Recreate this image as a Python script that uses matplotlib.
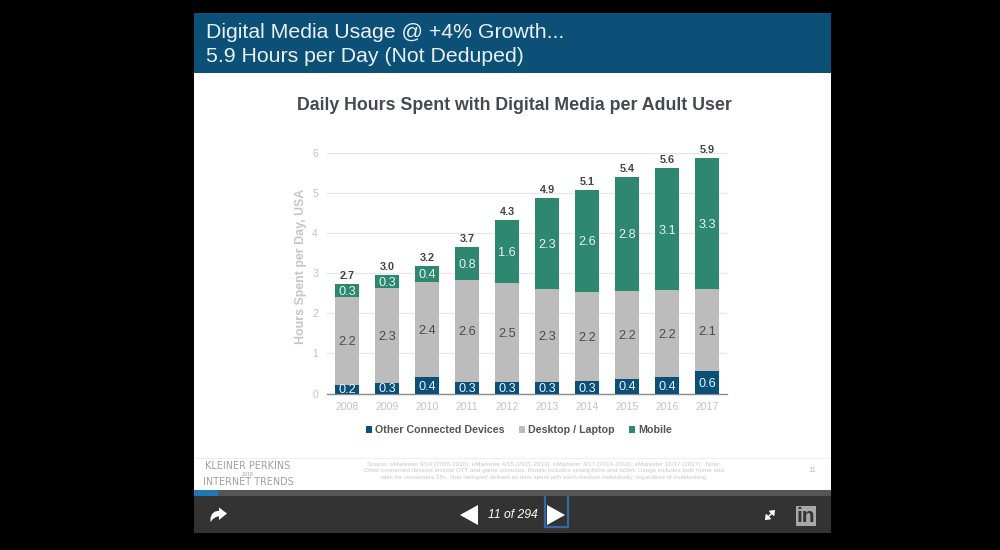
import matplotlib
matplotlib.use("Agg")
import matplotlib.pyplot as plt
from matplotlib.patches import Rectangle, Polygon, FancyArrowPatch
import numpy as np

plt.rcParams['font.family'] = ['Liberation Sans', 'DejaVu Sans']

years = ['2008', '2009', '2010', '2011', '2012', '2013', '2014', '2015', '2016', '2017']
other = [0.22, 0.27, 0.40, 0.29, 0.29, 0.28, 0.30, 0.37, 0.40, 0.55]
desktop = [2.19, 2.36, 2.38, 2.55, 2.46, 2.32, 2.23, 2.19, 2.17, 2.05]
mobile = [0.32, 0.32, 0.40, 0.81, 1.58, 2.27, 2.55, 2.84, 3.06, 3.28]
other_labels = ['0.2', '0.3', '0.4', '0.3', '0.3', '0.3', '0.3', '0.4', '0.4', '0.6']
desktop_labels = ['2.2', '2.3', '2.4', '2.6', '2.5', '2.3', '2.2', '2.2', '2.2', '2.1']
mobile_labels = ['0.3', '0.3', '0.4', '0.8', '1.6', '2.3', '2.6', '2.8', '3.1', '3.3']
total_labels = ['2.7', '3.0', '3.2', '3.7', '4.3', '4.9', '5.1', '5.4', '5.6', '5.9']
yticks = [0, 1, 2, 3, 4, 5, 6]

W, H = 1000, 550
fig = plt.figure(figsize=(10, 5.5), dpi=100, facecolor='black')

# Slide chrome, in pixel coordinates
bg = fig.add_axes([0, 0, 1, 1], zorder=0)
bg.set_xlim(0, W)
bg.set_ylim(H, 0)
bg.axis('off')


def box(x0, y0, x1, y1, color, **kw):
    bg.add_patch(Rectangle((x0, y0), x1 - x0, y1 - y0, facecolor=color, edgecolor='none', **kw))


box(194, 13, 831, 73, '#0c5078')
box(194, 72.5, 831, 73.5, '#7fa6bb')
box(194, 73, 831, 490, 'white')
box(194, 458, 831, 458.8, '#eeeeee')
box(194, 490, 831, 496, '#565656')
box(194, 490, 218, 496, '#1f77b4')
box(194, 496, 831, 533, '#333333')

bg.text(206, 32, 'Digital Media Usage @ +4% Growth...', color='#e8f0f4', fontsize=15.3,
        va='center', ha='left')
bg.text(206, 56, '5.9 Hours per Day (Not Deduped)', color='#e8f0f4', fontsize=15.3,
        va='center', ha='left')
bg.text(514, 106, 'Daily Hours Spent with Digital Media per Adult User', color='#444a50',
        fontsize=12.75, fontweight='bold', va='center', ha='center')

# Footer
bg.text(248, 466, 'KLEINER PERKINS', color='#a0a0a0', fontsize=6.9, family='DejaVu Sans', ha='center', va='center')
bg.text(248, 474, '2018', color='#9a9a9a', fontsize=3.8, ha='center', va='center')
bg.text(248, 482, 'INTERNET TRENDS', color='#a0a0a0', fontsize=6.9, family='DejaVu Sans', ha='center', va='center')
foot = ['Source: eMarketer 9/14 (2008-2010), eMarketer 4/15 (2011-2013), eMarketer 4/17 (2014-2016), eMarketer 10/17 (2017).  Note:',
        'Other connected devices include OTT and game consoles. Mobile includes smartphone and tablet. Usage includes both home and',
        'work for consumers 18+. Non deduped defined as time spent with each medium individually, regardless of multitasking.']
for yy, line in zip([464.5, 470.5, 477], foot):
    bg.text(544, yy, line, color='#c8c8c8', fontsize=4.5, ha='center', va='center')
bg.text(812, 471, '11', color='#bbbbbb', fontsize=5.2, ha='center', va='center')

# Toolbar
bg.add_patch(Polygon([[460, 515], [478, 505], [478, 525]], facecolor='white', edgecolor='none'))
bg.add_patch(Polygon([[547, 505], [565, 515], [547, 525]], facecolor='white', edgecolor='none'))
bg.plot([544.5, 544.5, 567.5, 567.5], [496, 527, 527, 496], color='#2f6aa8', lw=1.6, solid_capstyle='butt')
bg.text(513, 515.5, '11 of 294', color='white', fontsize=8.7, style='italic', ha='center', va='center')
bg.add_patch(Polygon([[227, 513.5], [219, 507.5], [219, 510.8], [215, 511.5], [212, 514], [210.5, 518], [210.5, 522],
                      [213, 519], [216, 517], [219, 516.3], [219, 520]], facecolor='white', edgecolor='none'))
bg.add_patch(FancyArrowPatch((765, 520), (775, 510), arrowstyle='<|-|>,head_width=2,head_length=2.5',
                             color='white', lw=1, mutation_scale=1, shrinkA=0, shrinkB=0))
box(796, 505.5, 816, 526, '#a8a8a8')
bg.text(806, 516.5, 'in', color='#333333', fontsize=15, fontweight='bold', ha='center', va='center')

# Chart
ax = fig.add_axes([327 / W, 1 - 393.5 / H, 400 / W, 240.5 / H], zorder=2)
ax.patch.set_alpha(0)
x = np.arange(len(years))
bw = 0.6
other_a = np.array(other)
desk_a = np.array(desktop)
mob_a = np.array(mobile)
c_other, c_desk, c_mob = '#0b5078', '#bcbcbc', '#2e8870'
edge = dict(width=bw, zorder=3)
ax.bar(x, other_a, color=c_other, label='Other Connected Devices', **edge)
ax.bar(x, desk_a, bottom=other_a, color=c_desk, label='Desktop / Laptop', **edge)
ax.bar(x, mob_a, bottom=other_a + desk_a, color=c_mob, label='Mobile', **edge)

nudge = -0.035
for i in x:
    ax.text(i, other_a[i] / 2 + nudge, other_labels[i], color='#e8f3f3', fontsize=9.2,
            ha='center', va='center', zorder=4)
    ax.text(i, other_a[i] + desk_a[i] / 2 + nudge, desktop_labels[i], color='#4a4a4a', fontsize=9.2,
            ha='center', va='center', zorder=4)
    ax.text(i, other_a[i] + desk_a[i] + mob_a[i] / 2 + nudge, mobile_labels[i], color='#e8f3f3', fontsize=9.2,
            ha='center', va='center', zorder=4)
    ax.text(i, other_a[i] + desk_a[i] + mob_a[i] + 0.07, total_labels[i], color='#444444', fontsize=7.8,
            fontweight='bold', ha='center', va='bottom', zorder=4, clip_on=False)

ax.set_xlim(-0.5, 9.5)
ax.set_ylim(0, 6)
ax.set_yticks(yticks)
ax.set_xticks(x, years)
ax.tick_params(axis='both', length=0, labelcolor='#c2c2c2', labelsize=7.6)
ax.tick_params(axis='y', pad=6.5)
ax.tick_params(axis='x', pad=6)
ax.grid(axis='y', color='#e6e6e6', lw=0.9, zorder=0)
ax.set_axisbelow(True)
for s in ['top', 'right', 'left']:
    ax.spines[s].set_visible(False)
ax.spines['bottom'].set_color('#8c8c8c')
ax.spines['bottom'].set_linewidth(1)
ax.set_ylabel('Hours Spent per Day, USA', color='#c6c6c6', fontsize=8.9, fontweight='bold', y=0.527, labelpad=4)

leg = ax.legend(loc='upper center', bbox_to_anchor=(0.48, -0.11), ncol=3, frameon=False, fontsize=7.7,
                handlelength=0.6, handleheight=0.6, handletextpad=0.3, columnspacing=1.3, borderpad=0)
for t in leg.get_texts():
    t.set_color('#555555')
    t.set_fontweight('bold')

fig.savefig('out.png', dpi=100, facecolor='black')
